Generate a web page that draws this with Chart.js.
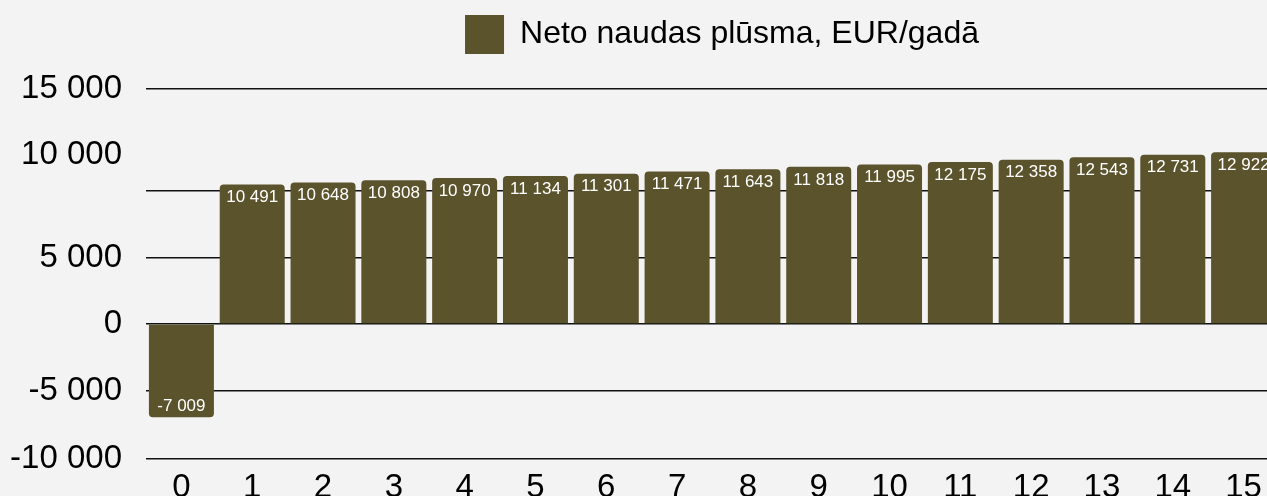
<!DOCTYPE html>
<html>
<head>
<meta charset="utf-8">
<script src="https://cdn.jsdelivr.net/npm/chart.js@4.4.0/dist/chart.umd.min.js"></script>
<style>
  html, body { margin: 0; padding: 0; background: #f3f3f3; overflow: hidden; }
  canvas { display: block; }
</style>
</head>
<body>
<canvas id="cashflow" width="1279" height="496"></canvas>
<script>
// years and yearly net cash flow
const years = ["0", "1", "2", "3", "4", "5", "6", "7", "8", "9", "10", "11", "12", "13", "14", "15"];
const netCashFlow = [-7009, 10491, 10648, 10808, 10970, 11134, 11301, 11471, 11643, 11818, 11995, 12175, 12358, 12543, 12731, 12922];

// y axis ticks (the "10 000" text sits above its grid line)
const yTickValues = [-10150, -5000, 0, 5000, 10000, 12700, 17670];
const yTickLabels = ["-10 000", "-5 000", "0", "5 000", "", "10 000", "15 000"];
const yTickGrid = [true, true, true, true, true, false, true];

const barColor = "#5a532c";
const bgColor = "#f3f3f3";
const fontFamily = "'Liberation Sans', Arial, Helvetica, sans-serif";

const fmt = (v) => String(v).replace(/\B(?=(\d{3})+(?!\d))/g, " ");

// background + value labels inside the bars
const extras = {
  id: "extras",
  afterInit(chart) {
    const fit = chart.legend.fit;
    chart.legend.fit = function () {
      fit.call(this);
      this.height = 89;
    };
  },
  afterLayout(chart) {
    chart.legend.left += 165;
  },
  beforeDraw(chart) {
    const c = chart.ctx;
    c.save();
    c.fillStyle = bgColor;
    c.fillRect(0, 0, chart.width, chart.height);
    c.restore();
  },
  afterDatasetsDraw(chart) {
    const c = chart.ctx;
    const meta = chart.getDatasetMeta(0);
    c.save();
    c.fillStyle = "#ffffff";
    c.font = "17px " + fontFamily;
    c.textAlign = "center";
    c.textBaseline = "middle";
    meta.data.forEach((bar, i) => {
      const v = netCashFlow[i];
      const y = v >= 0 ? bar.y + 13 : bar.y - 11;
      c.fillText(fmt(v), bar.x, y);
    });
    c.restore();
  },
};

const ctx = document.getElementById("cashflow").getContext("2d");

new Chart(ctx, {
  type: "bar",
  data: {
    labels: years,
    datasets: [
      {
        label: "Neto naudas plūsma, EUR/gadā",
        data: netCashFlow,
        backgroundColor: barColor,
        borderRadius: 4,
        barPercentage: 0.918,
        categoryPercentage: 1,
      },
    ],
  },
  options: {
    responsive: false,
    animation: false,
    layout: { padding: 0 },
    plugins: {
      legend: {
        position: "top",
        labels: {
          boxWidth: 39,
          boxHeight: 39,
          padding: 15,
          color: "#000",
          font: { family: fontFamily, size: 32 },
        },
      },
      tooltip: { enabled: false },
    },
    scales: {
      x: {
        grid: { display: false },
        border: { display: false },
        ticks: {
          color: "#000",
          padding: 1,
          font: { family: fontFamily, size: 33 },
        },
        afterFit(scale) {
          scale.height = 37;
        },
      },
      y: {
        min: yTickValues[0],
        max: yTickValues[yTickValues.length - 1],
        border: { display: false },
        grid: {
          drawTicks: false,
          lineWidth: 1.5,
          color: (c) => (yTickGrid[c.index] ? "#111" : "rgba(0,0,0,0)"),
        },
        ticks: {
          autoSkip: false,
          color: "#000",
          padding: 24,
          font: { family: fontFamily, size: 33 },
          callback: (v, i) => yTickLabels[i],
        },
        afterBuildTicks(scale) {
          scale.ticks = yTickValues.map((v) => ({ value: v }));
        },
        afterFit(scale) {
          scale.width = 146;
          scale.paddingBottom = 0;
        },
      },
    },
  },
  plugins: [extras],
});
</script>
</body>
</html>
